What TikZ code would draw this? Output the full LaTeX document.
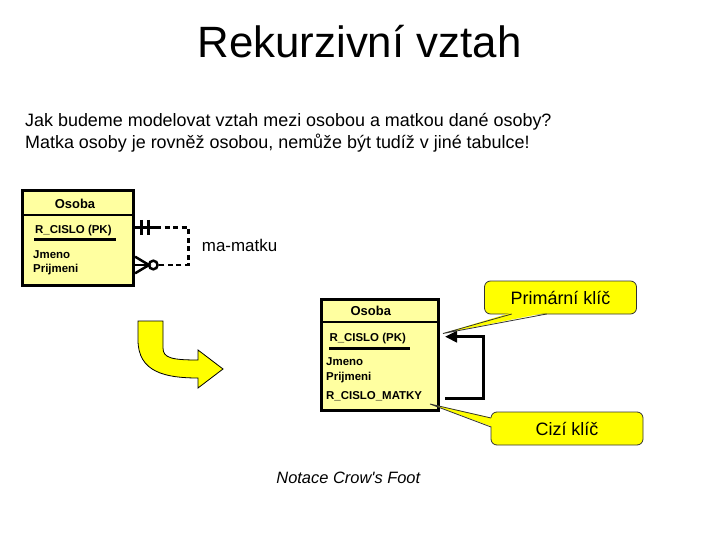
\documentclass[tikz,border=0pt]{standalone}
\usepackage{fontspec}
\setmainfont{Liberation Sans}
\usepackage{xcolor}
\usetikzlibrary{arrows.meta,positioning,calc}
\definecolor{entfill}{RGB}{255,255,160}
\definecolor{callfill}{RGB}{255,255,0}

\begin{document}
\begin{tikzpicture}[
  x=1bp, y=-1bp,
  entity/.style={draw, fill=entfill, line width=3bp, inner sep=0pt},
  hdr/.style={anchor=base, inner sep=0pt, font=\fontsize{13}{15}\selectfont\bfseries},
  attr/.style={anchor=base west, inner sep=0pt, font=\fontsize{11.5}{13}\selectfont\bfseries},
  txt/.style={anchor=base west, inner sep=0pt, font=\fontsize{18}{21}\selectfont},
  rel/.style={line width=2.5bp},
  selfref/.style={line width=3bp, -{Triangle[length=12bp,width=11bp]}},
  callout/.style={draw=black!80, fill=callfill, rounded corners=6bp, line width=0.8bp, minimum width=152bp, minimum height=33bp, inner sep=0pt, font=\fontsize{18}{21}\selectfont},
  pointer/.style={draw=black!80, line width=0.8bp},
]
\useasboundingbox (0,0) rectangle (720,540);

\node[anchor=base, inner sep=0pt, font=\fontsize{44}{50}\selectfont] (title) at (359.5,57.7) {Rekurzivní vztah};
\node[txt] (q1) at (25,126.7) {Jak budeme modelovat vztah mezi osobou a matkou dané osoby?};
\node[txt] (q2) at (25,148.3) {Matka osoby je rovněž osobou, nemůže být tudíž v jiné tabulce!};

\node[entity, minimum width=111bp, minimum height=95bp] (ent1) at (78.1,238.4) {};
\draw[line width=2bp] (ent1.west |- 0,215.5) -- (ent1.east |- 0,215.5);
\node[hdr] (ent1hdr) at (75,208.3) {Osoba};
\node[attr] (ent1pk) at (35,233.3) {R\_CISLO (PK)};
\draw[line width=3bp] (34,240) -- (116,240);
\node[attr] (ent1a) at (33,259) {Jmeno};
\node[attr] (ent1b) at (33,273) {Prijmeni};

\coordinate (one) at (156,227.7);
\coordinate (many) at (157.6,265);
\draw[rel] (ent1.east |- one) -- (one);
\draw[rel] (141.7,220) -- (141.7,235);
\draw[rel] (148.3,220) -- (148.3,235);
\draw[rel, dash pattern=on 5bp off 3.5bp] (one) -- (188.3,227.7) -- (188.3,265) -- (many);
\draw[rel] (153.3,265) circle[radius=4.3bp];
\draw[rel] (ent1.east |- 0,256.7) -- (149,265) -- (ent1.east |- 0,273.3);
\draw[rel] (ent1.east |- many) -- (149,265);
\node[anchor=base west, inner sep=0pt, font=\fontsize{17}{20}\selectfont] (relname) at (201.7,251.7) {ma-matku};

\draw[fill=callfill, line width=0.8bp] (138,321) -- (163,321) -- (163,348)
  .. controls (163,358) and (172,360) .. (198,360) -- (198,350) -- (223,369) -- (198,388) -- (198,378)
  .. controls (165,378) and (138,372) .. (138,340) -- cycle;

\node[entity, minimum width=116.6bp, minimum height=110bp] (ent2) at (380,355) {};
\draw[line width=2bp] (ent2.west |- 0,321.7) -- (ent2.east |- 0,321.7);
\node[hdr] (ent2hdr) at (370.8,315.7) {Osoba};
\node[attr] (ent2pk) at (329.3,341) {R\_CISLO (PK)};
\draw[line width=3bp] (329,348) -- (410,348);
\node[attr] (ent2a) at (326,365) {Jmeno};
\node[attr] (ent2b) at (326,380) {Prijmeni};
\node[attr] (ent2fk) at (326,399.3) {R\_CISLO\_MATKY};

\coordinate (fkout) at (445,398.3);
\coordinate (pkin) at (445,336.7);
\draw[selfref] (fkout) -- (483.3,398.3) |- (pkin);

\node[callout] (pkcall) at (560.5,297.5) {Primární klíč};
\coordinate (pktip) at (443,333.5);
\fill[callfill] (pktip) -- (511.7,312.5) -- (546.7,312.5) -- cycle;
\draw[pointer] (511.7,314) -- (pktip) -- (546.7,314);

\node[callout] (fkcall) at (567,428.5) {Cizí klíč};
\coordinate (fktip) at (430,404);
\fill[callfill] (fktip) -- (493,418) -- (493,427) -- cycle;
\draw[pointer] (491,418) -- (fktip) -- (491,427);

\node[anchor=base, inner sep=0pt, font=\fontsize{16.5}{19}\selectfont\itshape] (notace) at (348.3,483.3) {Notace Crow\textquotesingle s Foot};

\end{tikzpicture}
\end{document}
